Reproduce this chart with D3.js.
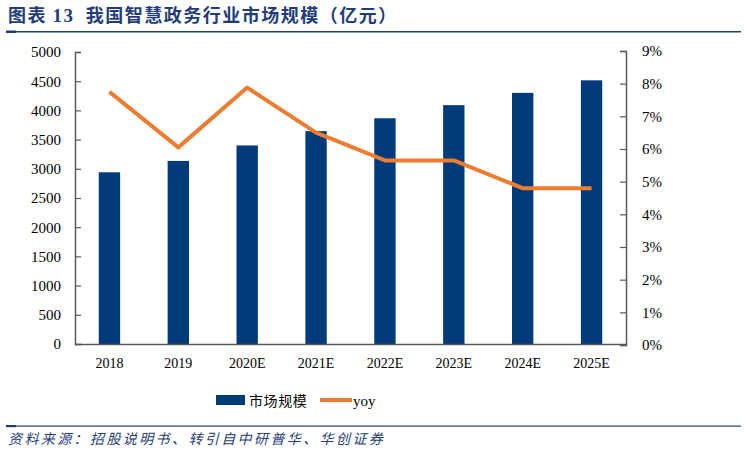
<!DOCTYPE html>
<html><head><meta charset="utf-8">
<script src="https://cdn.jsdelivr.net/npm/d3@7"></script>
<style>body{margin:0;background:#fff;}svg{display:block;}</style>
</head><body>
<svg id="c" width="747" height="451"></svg>
<script>
const categories = ["2018","2019","2020E","2021E","2022E","2023E","2024E","2025E"];
const marketSize = [2940,3135,3400,3645,3865,4090,4300,4515];
const yoy = [7.75,6.05,7.88,6.5,5.65,5.65,4.8,4.8];
const leftTicks = [0,500,1000,1500,2000,2500,3000,3500,4000,4500,5000];
const rightTicks = [0,1,2,3,4,5,6,7,8,9];
const titleParts = ["图表 ","13","  我国智慧政务行业市场规模（亿元）"];
const sourceText = "资料来源：招股说明书、转引自中研普华、华创证券";
const legendLabels = ["市场规模","yoy"];

const svg = d3.select("#c");
const blue = "#023A7A", orange = "#ED7D31", navy = "#1F3D7A";
const L = 75, R = 626, T = 52, B = 344;
const serif = "'Liberation Serif','Times New Roman',serif";
const cjk = "'Noto Sans CJK SC'";

const x = d3.scaleBand().domain(categories).range([L,R]).paddingInner(0.69).paddingOuter(0.345);
const y = d3.scaleLinear().domain([0,5000]).range([B,T]);
const y2 = d3.scaleLinear().domain([0,9]).range([B+1,T-1]);

// title
const tt = svg.append("text").attr("x",8).attr("y",22)
  .attr("font-family",cjk).attr("font-weight","bold").attr("font-size",18)
  .attr("letter-spacing",1.5).attr("fill",navy);
tt.append("tspan").text(titleParts[0]);
tt.append("tspan").text(titleParts[1]).attr("font-family",serif).attr("font-size",19);
tt.append("tspan").text(titleParts[2]).attr("xml:space","preserve");
svg.append("rect").attr("x",6).attr("y",31).attr("width",735).attr("height",1.5).attr("fill",navy);
svg.append("rect").attr("x",6).attr("y",30.5).attr("width",10).attr("height",2.5).attr("fill",navy);

// bars
svg.append("g").selectAll("rect").data(categories).join("rect")
  .attr("x",d=>x(d)).attr("width",x.bandwidth())
  .attr("y",(d,i)=>y(marketSize[i])).attr("height",(d,i)=>B-y(marketSize[i]))
  .attr("fill",blue);

// axes
const gl = svg.append("g").attr("transform",`translate(${L},0)`)
  .call(d3.axisLeft(y).tickValues(leftTicks).tickSize(-6).tickPadding(14).tickFormat(d3.format("d")));
const gr = svg.append("g").attr("transform",`translate(${R},0)`)
  .call(d3.axisRight(y2).tickValues(rightTicks).tickSize(-6).tickPadding(16).tickFormat(d=>d+"%"));
const gb = svg.append("g").attr("transform",`translate(0,${B})`)
  .call(d3.axisBottom(x).tickSize(0).tickPadding(14));
[gl,gr,gb].forEach(g=>{
  g.selectAll("path").attr("stroke","#595959").attr("stroke-width",1.5);
  g.selectAll("line").attr("stroke","#595959").attr("stroke-width",1.2);
  g.selectAll("text").attr("font-family",serif).attr("font-size",15).attr("fill","#000");
});
gb.selectAll("text").attr("font-size",14);
gb.select("path").attr("d",`M${L},0.5H${R}`);

// line
const line = d3.line().x((d,i)=>x(categories[i])+x.bandwidth()/2).y(d=>y2(d));
svg.append("path").datum(yoy).attr("d",line).attr("fill","none")
  .attr("stroke",orange).attr("stroke-width",4).attr("stroke-linejoin","round");

// legend
svg.append("rect").attr("x",216).attr("y",395).attr("width",29).attr("height",10).attr("fill",blue);
svg.append("text").attr("x",249).attr("y",406).text(legendLabels[0])
  .attr("font-family",cjk).attr("font-size",14).attr("letter-spacing",0.6).attr("fill","#000");
svg.append("line").attr("x1",320).attr("x2",352).attr("y1",400).attr("y2",400)
  .attr("stroke",orange).attr("stroke-width",4);
svg.append("text").attr("x",353).attr("y",406).text(legendLabels[1])
  .attr("font-family",serif).attr("font-size",15).attr("fill","#000");

// footer
svg.append("rect").attr("x",6).attr("y",425.5).attr("width",735).attr("height",1.2).attr("fill",navy);
svg.append("rect").attr("x",6).attr("y",425).attr("width",10).attr("height",2.2).attr("fill",navy);
svg.append("text").attr("x",8).attr("y",444).text(sourceText)
  .attr("font-family",cjk).attr("font-style","italic").attr("font-size",14)
  .attr("letter-spacing",2.4).attr("fill",navy);
</script>
</body></html>
